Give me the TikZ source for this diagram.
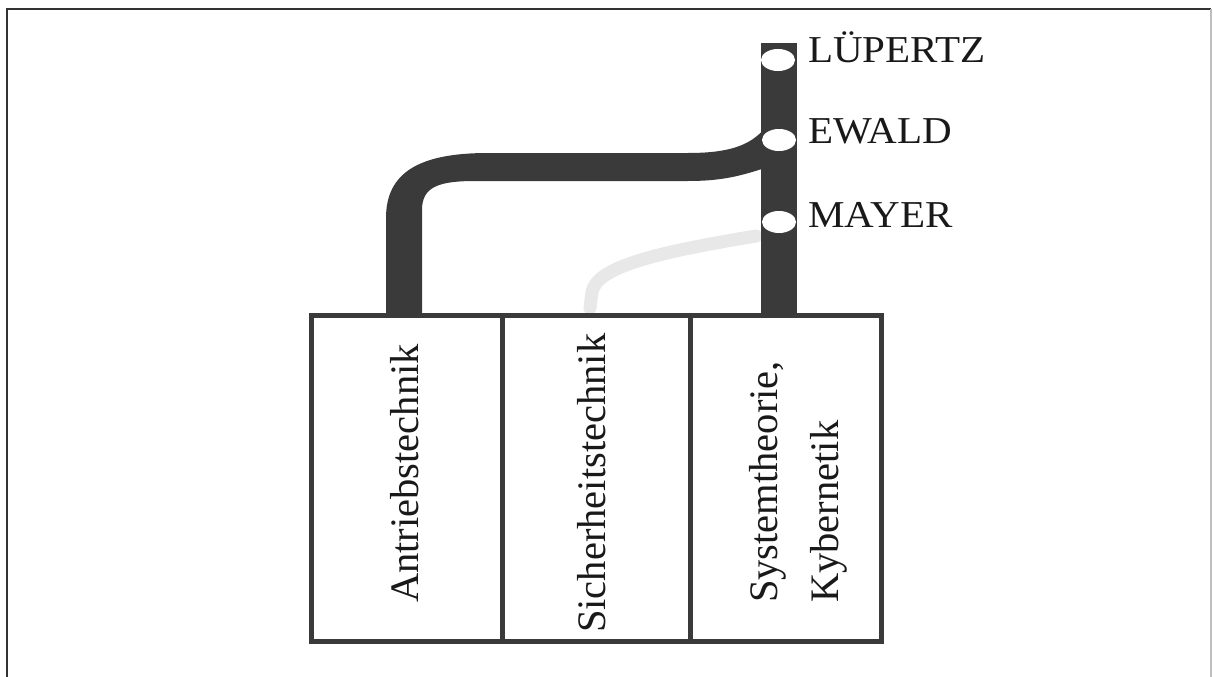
\documentclass[tikz,border=0pt]{standalone}
\usepackage{fontspec}
\setmainfont{Liberation Serif}
\usetikzlibrary{shapes.geometric}
\definecolor{ink}{HTML}{3A3A3A}
\tikzset{
  station/.style={ellipse, fill=white, draw=none, minimum width=34pt, minimum height=22pt, inner sep=0pt},
  stationlabel/.style={anchor=base west, inner sep=0pt, font=\fontsize{38}{40}\selectfont, xscale=1.08, text=black!90},
  field/.style={rectangle, draw=ink, line width=5pt, fill=none, inner sep=0pt},
  fieldtext/.style={rotate=90, anchor=base west, inner sep=0pt, font=\fontsize{40.5}{44}\selectfont, text=black!90},
  trunk/.style={fill=ink, draw=none},
  ghost/.style={draw=black!9, line width=13pt, line cap=round}
}
\begin{document}
\begin{tikzpicture}[x=1pt,y=-1pt]
\useasboundingbox (0,0) rectangle (1213,677);
% outer frame (left, top, right)
\draw[black!80, line width=1.6pt] (7,677) -- (7,9) -- (1211,9);
\draw[black!25, line width=1.2pt] (1211,9) -- (1211,677);

% faint trace
\draw[ghost] (590,308) -- (592,292) .. controls (597,266) and (660,252) .. (756,236);

% trunk line (right)
\fill[trunk] (761,43) rectangle (797,313);
% branch line to the left field
\fill[trunk] (386,314) -- (386,218)
  .. controls (386,172) and (420,153) .. (488,153)
  -- (688,153)
  .. controls (728,153) and (750,146) .. (765,128)
  -- (765,168)
  .. controls (740,176) and (722,181) .. (688,181)
  -- (476,181)
  .. controls (440,181) and (422,186) .. (422,210)
  -- (422,314) -- cycle;

% fields
\node[field, minimum width=191pt, minimum height=326pt] (fa) at (406.5,478) {};
\node[field, minimum width=188pt, minimum height=326pt] (fb) at (596,478) {};
\node[field, minimum width=191pt, minimum height=326pt] (fc) at (785.5,478) {};

\node[fieldtext] (ta) at (418,603) {Antriebstechnik};
\node[fieldtext] (tb) at (605,633) {Sicherheitstechnik};
\node[fieldtext] (tc1) at (777,603) {Systemtheorie,};
\node[fieldtext] (tc2) at (838,603) {Kybernetik};

% stations
\node[station] (lup) at (778,60) {};
\node[station] (ewa) at (779,140) {};
\node[station] (may) at (779,222) {};

\node[stationlabel] (llup) at (808,63) {LÜPERTZ};
\node[stationlabel] (lewa) at (808,143) {EWALD};
\node[stationlabel] (lmay) at (808,227) {MAYER};
\end{tikzpicture}
\end{document}
